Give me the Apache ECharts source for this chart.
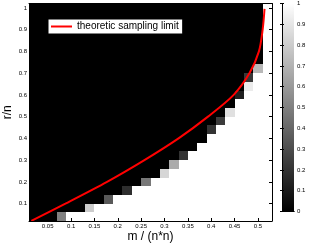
<!DOCTYPE html>
<html><head><meta charset="utf-8">
<script src="https://cdn.jsdelivr.net/npm/echarts@6/dist/echarts.min.js"></script>
<style>html,body{margin:0;padding:0;background:#fff}#c{width:316px;height:246px}</style>
</head><body><div id="c"></div>
<script>
// column centres (m / n^2) and row centres (r / n)
const xCenters = [0.02,0.04,0.06,0.08,0.10,0.12,0.14,0.16,0.18,0.20,0.22,0.24,0.26,0.28,0.30,0.32,0.34,0.36,0.38,0.40,0.42,0.44,0.46,0.48,0.50,0.52];
const yCenters = [0.04,0.08,0.12,0.16,0.20,0.24,0.28,0.32,0.36,0.40,0.44,0.48,0.52,0.56,0.60,0.64,0.68,0.72,0.76,0.80,0.84,0.88,0.92,0.96,1.00];
// recovery rate per cell; first row = bottom (r/n = 0.04)
const recoveryRows = [
  [0,0,0,0.5,1,1,1,1,1,1,1,1,1,1,1,1,1,1,1,1,1,1,1,1,1,1],
  [0,0,0,0,0,0,0.8,1,1,1,1,1,1,1,1,1,1,1,1,1,1,1,1,1,1,1],
  [0,0,0,0,0,0,0,0,0.35,1,1,1,1,1,1,1,1,1,1,1,1,1,1,1,1,1],
  [0,0,0,0,0,0,0,0,0,0,0.18,1,1,1,1,1,1,1,1,1,1,1,1,1,1,1],
  [0,0,0,0,0,0,0,0,0,0,0,0,0.47,1,1,1,1,1,1,1,1,1,1,1,1,1],
  [0,0,0,0,0,0,0,0,0,0,0,0,0,0,0.84,1,1,1,1,1,1,1,1,1,1,1],
  [0,0,0,0,0,0,0,0,0,0,0,0,0,0,0,0.67,1,1,1,1,1,1,1,1,1,1],
  [0,0,0,0,0,0,0,0,0,0,0,0,0,0,0,0,0.2,1,1,1,1,1,1,1,1,1],
  [0,0,0,0,0,0,0,0,0,0,0,0,0,0,0,0,0,0,1,1,1,1,1,1,1,1],
  [0,0,0,0,0,0,0,0,0,0,0,0,0,0,0,0,0,0,0,1,1,1,1,1,1,1],
  [0,0,0,0,0,0,0,0,0,0,0,0,0,0,0,0,0,0,0,0.2,1,1,1,1,1,1],
  [0,0,0,0,0,0,0,0,0,0,0,0,0,0,0,0,0,0,0,0,0.23,1,1,1,1,1],
  [0,0,0,0,0,0,0,0,0,0,0,0,0,0,0,0,0,0,0,0,0,0.88,1,1,1,1],
  [0,0,0,0,0,0,0,0,0,0,0,0,0,0,0,0,0,0,0,0,0,0,1,1,1,1],
  [0,0,0,0,0,0,0,0,0,0,0,0,0,0,0,0,0,0,0,0,0,0,0.12,1,1,1],
  [0,0,0,0,0,0,0,0,0,0,0,0,0,0,0,0,0,0,0,0,0,0,0,0.92,1,1],
  [0,0,0,0,0,0,0,0,0,0,0,0,0,0,0,0,0,0,0,0,0,0,0,0.22,1,1],
  [0,0,0,0,0,0,0,0,0,0,0,0,0,0,0,0,0,0,0,0,0,0,0,0,0.72,1],
  [0,0,0,0,0,0,0,0,0,0,0,0,0,0,0,0,0,0,0,0,0,0,0,0,0,1],
  [0,0,0,0,0,0,0,0,0,0,0,0,0,0,0,0,0,0,0,0,0,0,0,0,0,1],
  [0,0,0,0,0,0,0,0,0,0,0,0,0,0,0,0,0,0,0,0,0,0,0,0,0,1],
  [0,0,0,0,0,0,0,0,0,0,0,0,0,0,0,0,0,0,0,0,0,0,0,0,0,1],
  [0,0,0,0,0,0,0,0,0,0,0,0,0,0,0,0,0,0,0,0,0,0,0,0,0,1],
  [0,0,0,0,0,0,0,0,0,0,0,0,0,0,0,0,0,0,0,0,0,0,0,0,0,1],
  [0,0,0,0,0,0,0,0,0,0,0,0,0,0,0,0,0,0,0,0,0,0,0,0,0,1]
];
// theoretic sampling limit curve
const limitX = [0.015,0.088,0.177,0.257,0.33,0.393,0.448,0.482,0.502,0.51,0.514];
const limitY = [0.021,0.1,0.2,0.3,0.4,0.5,0.6,0.7,0.8,0.9,0.995];
const xTickValues = [0.05,0.1,0.15,0.2,0.25,0.3,0.35,0.4,0.45,0.5];
const yTickValues = [0.1,0.2,0.3,0.4,0.5,0.6,0.7,0.8,0.9,1];
const cbTickValues = [0,0.1,0.2,0.3,0.4,0.5,0.6,0.7,0.8,0.9,1];
const legendName = 'theoretic sampling limit';

const FONT = 'Liberation Sans, Arial, sans-serif';
const cells = [];
recoveryRows.forEach((row, j) => row.forEach((v, i) => cells.push([xCenters[i], yCenters[j], v])));
const halfW = (xCenters[1] - xCenters[0]) / 2;
const halfH = (yCenters[1] - yCenters[0]) / 2;
const limitData = limitX.map((x, i) => [x, limitY[i]]);

const chart = echarts.init(document.getElementById('c'), null, {renderer: 'canvas'});
const lab = {fontSize: 6, fontFamily: FONT, color: '#000'};
const frameLine = {show: true, lineStyle: {color: '#000', width: 1}};
chart.setOption({
  animation: false,
  backgroundColor: '#fff',
  grid: [
    {left: 29, top: 3.5, width: 243, height: 217.5, containLabel: false, outerBoundsMode: 'none'},
    {left: 282, top: 3.5, width: 12, height: 208, containLabel: false, outerBoundsMode: 'none'}
  ],
  visualMap: {type: 'continuous', show: false, min: 0, max: 1, dimension: 2, seriesIndex: 0,
    inRange: {color: ['#000000', '#ffffff']}},
  legend: {
    left: 48, top: 19, padding: [2, 4, 2, 3], itemWidth: 21, itemHeight: 2, itemGap: 4,
    borderColor: '#000', borderWidth: 1, borderRadius: 0, backgroundColor: '#fff',
    textStyle: {fontSize: 10, fontFamily: FONT, color: '#000', lineHeight: 11},
    data: [{name: legendName, icon: 'rect'}]
  },
  xAxis: [
    {gridIndex: 0, type: 'value', min: 0.01, max: 0.53, position: 'bottom', z: 5,
     axisLine: frameLine, splitLine: {show: false},
     axisTick: {inside: true, length: 3, customValues: xTickValues, lineStyle: {color: '#000'}},
     axisLabel: Object.assign({customValues: xTickValues, margin: 2}, lab),
     name: 'm / (n*n)', nameLocation: 'middle', nameGap: 10, nameMoveOverlap: false,
     nameTextStyle: {fontSize: 12, fontFamily: FONT, color: '#000'}},
    {gridIndex: 0, type: 'value', min: 0.01, max: 0.53, position: 'top', z: 5,
     axisLine: frameLine, splitLine: {show: false},
     axisTick: {inside: true, length: 3, customValues: xTickValues, lineStyle: {color: '#000'}},
     axisLabel: {show: false}},
    {gridIndex: 1, type: 'value', min: 0, max: 1, position: 'bottom', z: 5,
     axisLine: frameLine, splitLine: {show: false}, axisTick: {show: false}, axisLabel: {show: false}},
    {gridIndex: 1, type: 'value', min: 0, max: 1, position: 'top', z: 5,
     axisLine: frameLine, splitLine: {show: false}, axisTick: {show: false}, axisLabel: {show: false}}
  ],
  yAxis: [
    {gridIndex: 0, type: 'value', min: 0.02, max: 1.02, position: 'left', z: 5,
     axisLine: frameLine, splitLine: {show: false},
     axisTick: {inside: true, length: 3, customValues: yTickValues, lineStyle: {color: '#000'}},
     axisLabel: Object.assign({customValues: yTickValues, margin: 2}, lab),
     name: 'r/n', nameLocation: 'middle', nameGap: 15, nameRotate: 90, nameMoveOverlap: false,
     nameTextStyle: {fontSize: 12, fontFamily: FONT, color: '#000'}},
    {gridIndex: 0, type: 'value', min: 0.02, max: 1.02, position: 'right', z: 5,
     axisLine: frameLine, splitLine: {show: false},
     axisTick: {inside: true, length: 3, customValues: yTickValues, lineStyle: {color: '#000'}},
     axisLabel: {show: false}},
    {gridIndex: 1, type: 'value', min: 0, max: 1, position: 'right', z: 5,
     axisLine: frameLine, splitLine: {show: false},
     axisTick: {inside: true, length: 2, customValues: cbTickValues, lineStyle: {color: '#000'}},
     axisLabel: Object.assign({customValues: cbTickValues, margin: 3}, lab)},
    {gridIndex: 1, type: 'value', min: 0, max: 1, position: 'left', z: 5,
     axisLine: frameLine, splitLine: {show: false},
     axisTick: {inside: true, length: 2, customValues: cbTickValues, lineStyle: {color: '#000'}},
     axisLabel: {show: false}}
  ],
  series: [
    {type: 'custom', xAxisIndex: 0, yAxisIndex: 0, data: cells,
     renderItem: function (params, api) {
       const x = api.value(0), y = api.value(1);
       const p0 = api.coord([x - halfW, y + halfH]);
       const p1 = api.coord([x + halfW, y - halfH]);
       const x0 = Math.round(p0[0]), y0 = Math.round(p0[1]);
       const x1 = Math.round(p1[0]), y1 = Math.round(p1[1]);
       return {type: 'rect', shape: {x: x0, y: y0, width: x1 - x0, height: y1 - y0},
               style: {fill: api.visual('color')}};
     }},
    {type: 'custom', xAxisIndex: 2, yAxisIndex: 2, data: [[0, 0, 1, 1]],
     renderItem: function (params, api) {
       const p0 = api.coord([api.value(0), api.value(3)]);
       const p1 = api.coord([api.value(2), api.value(1)]);
       return {type: 'rect', shape: {x: p0[0], y: p0[1], width: p1[0] - p0[0], height: p1[1] - p0[1]},
               style: {fill: new echarts.graphic.LinearGradient(0, 0, 0, 1,
                 [{offset: 0, color: '#ffffff'}, {offset: 1, color: '#000000'}])}};
     }},
    {type: 'line', name: legendName, xAxisIndex: 0, yAxisIndex: 0, data: limitData,
     smooth: 0.3, symbol: 'none', color: '#ff0000',
     lineStyle: {color: '#ff0000', width: 2}}
  ]
});
</script></body></html>
